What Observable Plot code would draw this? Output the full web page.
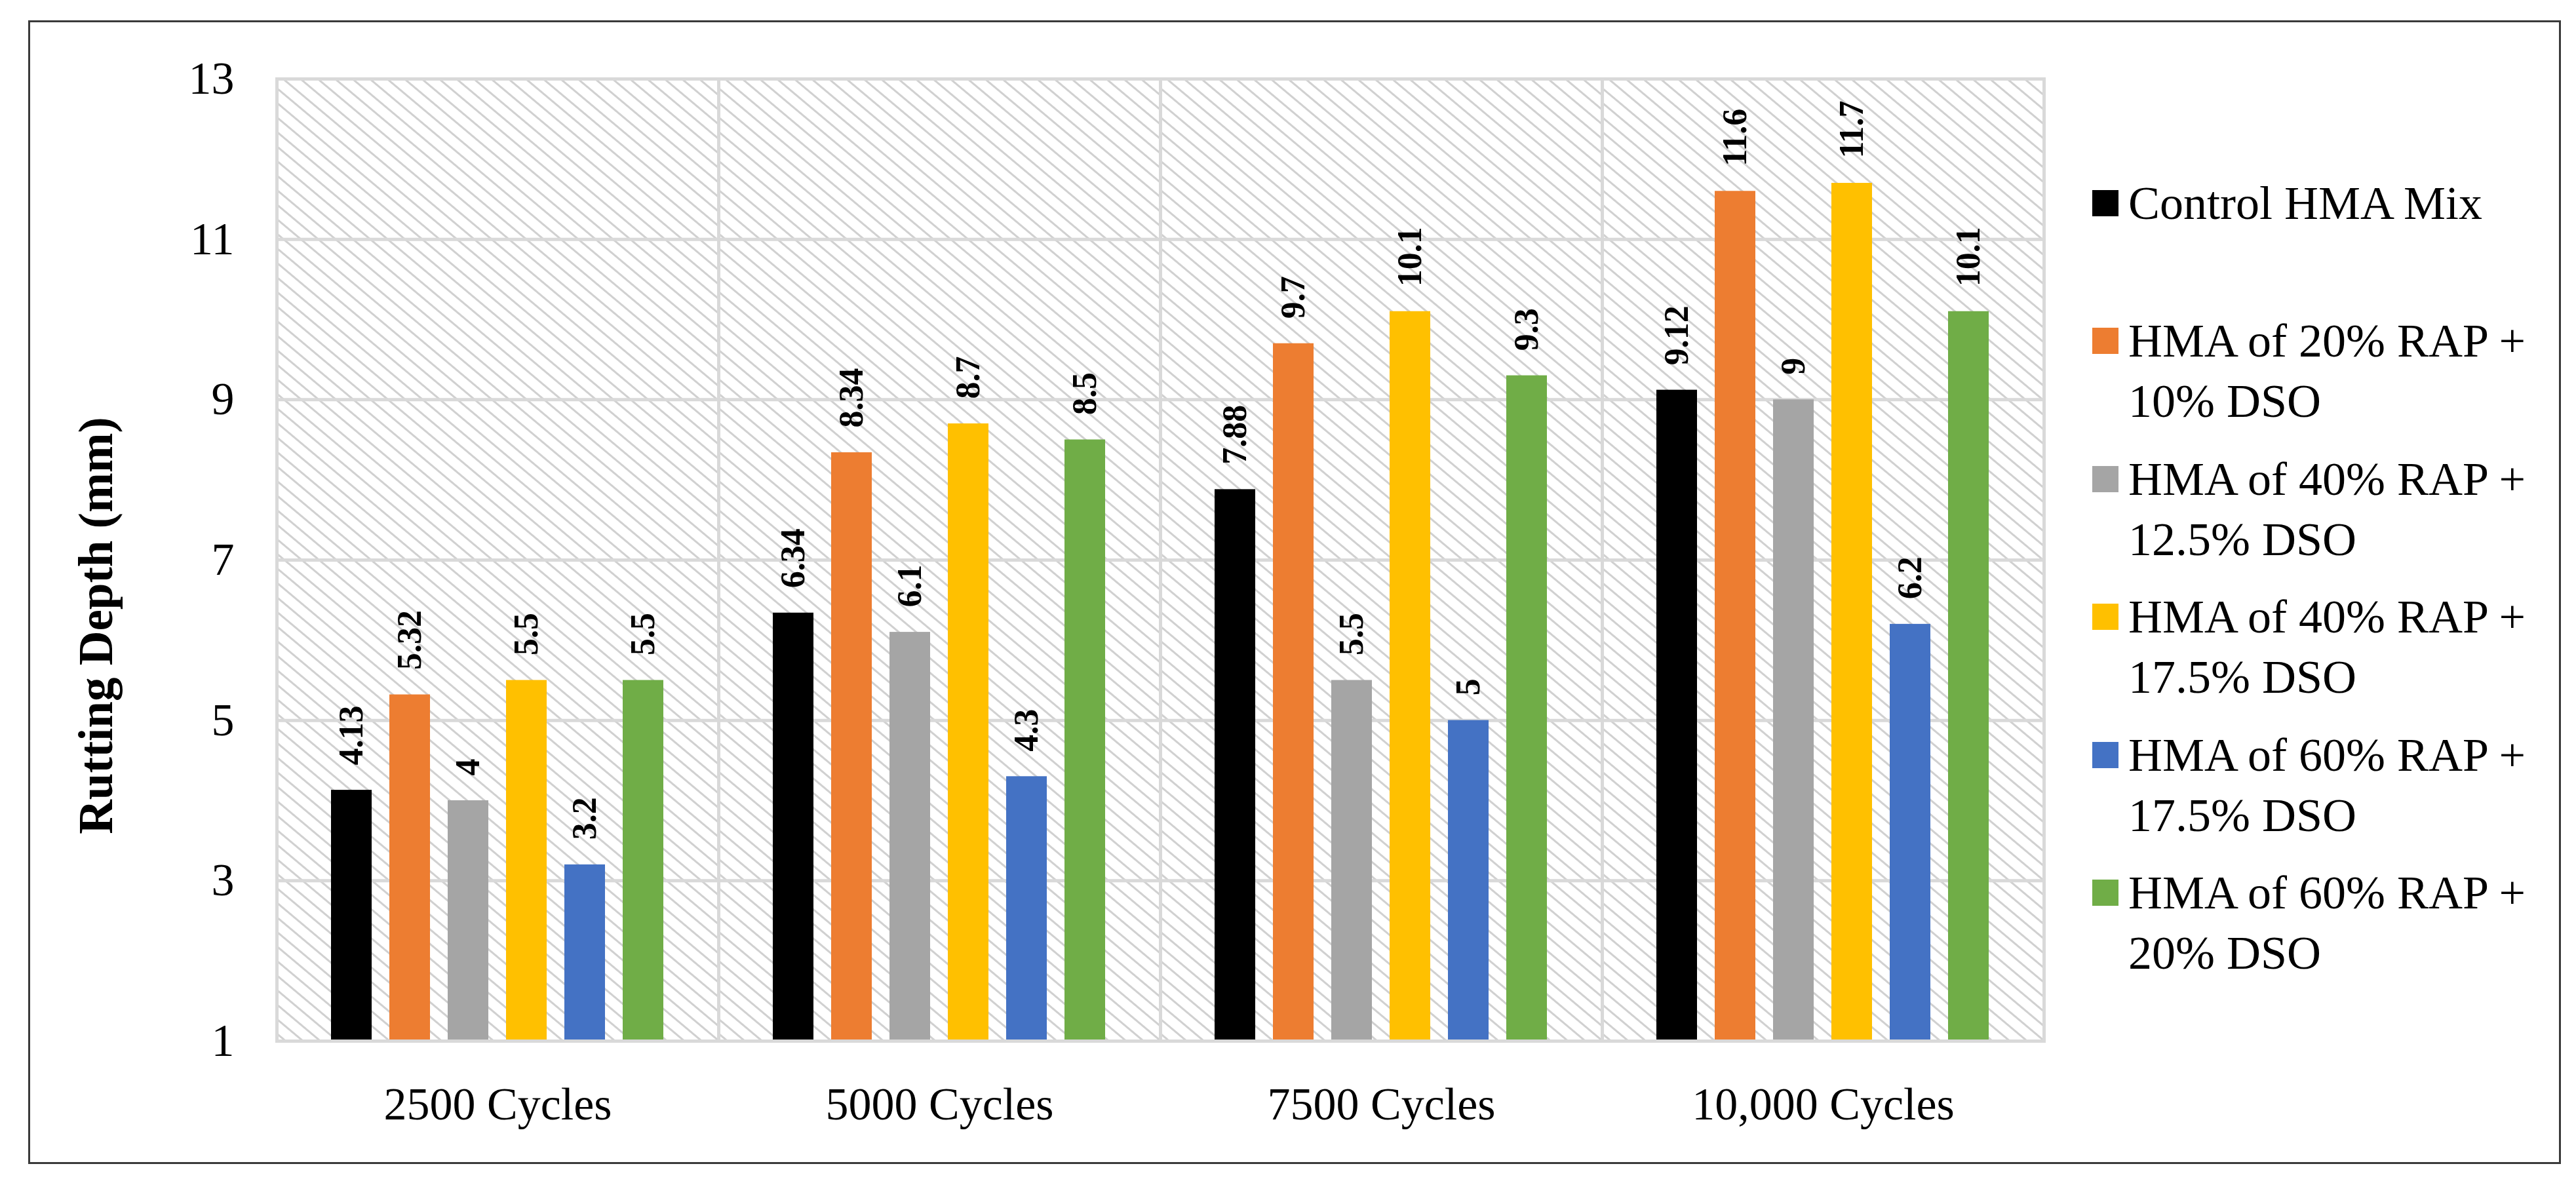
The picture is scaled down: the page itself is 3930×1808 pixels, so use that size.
<!DOCTYPE html>
<html>
<head>
<meta charset="utf-8">
<script src="https://cdn.jsdelivr.net/npm/d3@7"></script>
<script src="https://cdn.jsdelivr.net/npm/@observablehq/plot@0.6"></script>
<style>
  html, body { margin: 0; padding: 0; background: #fff; }
  #page { position: relative; width: 3930px; height: 1808px; background: #fff; overflow: hidden; }
  #border { position: absolute; left: 43px; top: 31px; width: 3864px; height: 1745px; box-sizing: border-box; border: 3px solid #3a3a3a; }
  #chart { position: absolute; left: 0; top: 0; }
  #legend { position: absolute; left: 3192px; top: 0; font-family: "Liberation Serif", serif; font-size: 72px; color: #000; }
  .item { position: absolute; left: 0; display: flex; align-items: flex-start; width: 720px; }
  .sw { width: 40px; height: 40px; margin-top: 26px; flex: none; }
  .lab { margin-left: 15px; line-height: 92px; width: 660px; }
</style>
</head>
<body>
<svg width="0" height="0" style="position:absolute">
  <defs>
    <pattern id="hatch" patternUnits="userSpaceOnUse" width="17" height="17" patternTransform="rotate(40)">
      <rect width="17" height="17" fill="#ffffff"></rect>
      <rect width="17" height="3" fill="#d0d0d0"></rect>
    </pattern>
  </defs>
</svg>
<div id="page">
  <div id="border"></div>
  <div id="chart"></div>
  <div id="legend"></div>
</div>
<script>
// ---- data ----
const cycles = ["2500 Cycles", "5000 Cycles", "7500 Cycles", "10,000 Cycles"];
const series = [
  "Control HMA Mix",
  "HMA of 20% RAP + 10% DSO",
  "HMA of 40% RAP + 12.5% DSO",
  "HMA of 40% RAP + 17.5% DSO",
  "HMA of 60% RAP + 17.5% DSO",
  "HMA of 60% RAP + 20% DSO"
];
const colors = ["#000000", "#ED7D31", "#A5A5A5", "#FFC000", "#4472C4", "#70AD47"];
const controlMix   = [4.13, 6.34, 7.88, 9.12];
const rap20dso10   = [5.32, 8.34, 9.7, 11.6];
const rap40dso125  = [4, 6.1, 5.5, 9];
const rap40dso175  = [5.5, 8.7, 10.1, 11.7];
const rap60dso175  = [3.2, 4.3, 5, 6.2];
const rap60dso20   = [5.5, 8.5, 9.3, 10.1];
const yTicks = [1, 3, 5, 7, 9, 11, 13];
const yLabel = "Rutting Depth (mm)";

const seriesValues = [controlMix, rap20dso10, rap40dso125, rap40dso175, rap60dso175, rap60dso20];
const data = [];
cycles.forEach((c, ci) => {
  series.forEach((s, si) => data.push({cycle: c, series: s, value: seriesValues[si][ci]}));
});

const chart = Plot.plot({
  width: 3150,
  height: 1808,
  marginLeft: 422,
  marginRight: 32,
  marginTop: 120,
  marginBottom: 220,
  style: {fontFamily: "'Liberation Serif', serif", fontSize: "70px", color: "#000", background: "transparent"},
  fx: {domain: cycles, padding: 0, label: null},
  x: {domain: series, paddingInner: 0.3, paddingOuter: 0.9, axis: null},
  y: {domain: [1, 13], label: null},
  color: {domain: series, range: colors},
  marks: [
    Plot.frame({fill: "url(#hatch)"}),
    Plot.gridY(yTicks, {stroke: "#d9d9d9", strokeWidth: 5, strokeOpacity: 1}),
    Plot.barY(data, {fx: "cycle", x: "series", y1: 1, y2: "value", fill: "series"}),
    Plot.frame({stroke: "#d9d9d9", strokeWidth: 5}),
    Plot.text(data, {fx: "cycle", x: "series", y: "value", text: d => String(d.value),
      rotate: -90, textAnchor: "start", lineAnchor: "middle", dy: -38,
      fontWeight: "bold", fontSize: 52, fill: "#000"}),
    Plot.axisY(yTicks, {tickSize: 0, tickPadding: 65, fontSize: 70, tickFormat: "d", label: null}),
    Plot.text([yLabel], {text: d => d, frameAnchor: "left", facetAnchor: "left", rotate: -90,
      lineAnchor: "top", textAnchor: "middle", dx: -303, dy: 100,
      fontSize: 73, fontWeight: "bold", fill: "#000"}),
    Plot.axisFx({anchor: "bottom", tickSize: 0, tickPadding: 70, fontSize: 70, label: null})
  ]
});
document.getElementById("chart").appendChild(chart);

// legend
const legend = document.getElementById("legend");
series.forEach((s, i) => {
  const item = document.createElement("div");
  item.className = "item";
  item.style.top = (264 + i * 210.4) + "px";
  const sw = document.createElement("div");
  sw.className = "sw";
  sw.style.background = colors[i];
  const lab = document.createElement("div");
  lab.className = "lab";
  lab.textContent = s;
  item.appendChild(sw);
  item.appendChild(lab);
  legend.appendChild(item);
});
</script>
</body>
</html>
